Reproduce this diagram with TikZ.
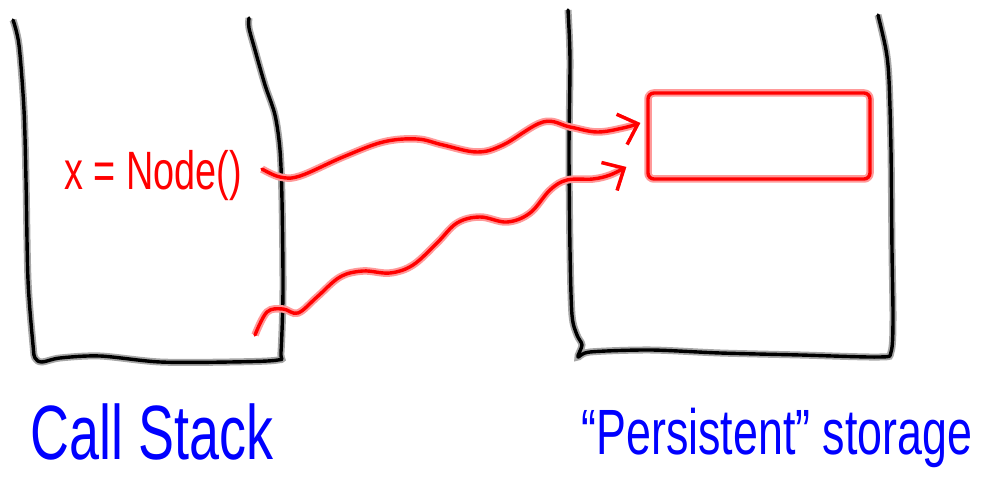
\documentclass[tikz,border=0pt]{standalone}
\usepackage{fontspec}
\usetikzlibrary{arrows.meta}
\newfontfamily\handfont[FakeStretch=0.7]{Liberation Sans}

\begin{document}
\begin{tikzpicture}[
    x=1pt, y=1pt,
    % Node styles
    lbl/.style={font=\handfont, inner sep=0pt, anchor=base},
    % Lines and boxes
    wall/.style={draw=black, line width=3.4pt, line cap=round, line join=round,
        preaction={draw=black!35, line width=7pt}},
    conn/.style={draw=red, line width=3.4pt, line cap=round, line join=round,
        preaction={draw=red!40, line width=7.5pt},
        -{Straight Barb[length=17pt, width=32pt, line width=3.4pt]}},
    objbox/.style={draw=red, line width=3.4pt, rounded corners=6pt,
        preaction={draw=red!40, line width=7.5pt},
        minimum width=222pt, minimum height=86pt, inner sep=0pt}
]
\useasboundingbox (0,0) rectangle (983,489);

% ==========================================
% CONTAINERS
% ==========================================
% Call stack
\draw[wall] plot[smooth, tension=0.5] coordinates {
    (13,469) (19,444) (24,379) (26,309) (28,209) (33,144) (35,131) (42,127)
    (60,131) (100,133) (160,127) (230,127) (278,129) (281,137) (283,199)
    (282,289) (280,339) (275,374) (265,404) (255,439) (249,461) (249,471)};
% Persistent storage
\draw[wall] plot[smooth, tension=0.5] coordinates {
    (568,479) (570,429) (569,339) (570,239) (572,174) (577,154) (582,144)
    (578,132) (590,137) (650,139) (720,136) (800,134) (880,132) (891,137)
    (893,169) (892,239) (891,339) (889,409) (886,439) (878,474)};

% ==========================================
% NODES
% ==========================================
\node[lbl, text=red, font=\handfont\fontsize{54}{56}\selectfont] (xnode) at (153,299) {x = Node()};
\node[objbox] (obj) at (759,353) {};

\node[lbl, text=blue, font=\handfont\fontsize{77}{80}\selectfont] (stack) at (152,29) {Call Stack};
\node[lbl, text=blue, font=\handfont\fontsize{64}{66}\selectfont] (store) at (777,34) {“Persistent” storage};

% ==========================================
% REFERENCES
% ==========================================
\coordinate (a1) at ([xshift=20pt, yshift=7pt]xnode.east);
\coordinate (t1) at ([shift={(-6pt,13pt)}]obj.west);
\coordinate (a2) at (255,154);
\coordinate (t2) at ([shift={(-20pt,-31pt)}]obj.west);

\draw[conn] plot[smooth, tension=0.6] coordinates {
    (a1) (280,312) (300,313) (343,332) (383,347) (417,350) (443,344) (477,337)
    (503,344) (543,367) (570,362) (597,357) (623,361) (t1)};
\draw[conn] plot[smooth, tension=0.6] coordinates {
    (a2) (267,177) (283,180) (298,176) (317,192) (340,212) (363,218) (390,216)
    (413,224) (437,246) (457,266) (480,272) (507,267) (530,276) (550,299)
    (567,309) (593,310) (610,314) (t2)};

\end{tikzpicture}
\end{document}
